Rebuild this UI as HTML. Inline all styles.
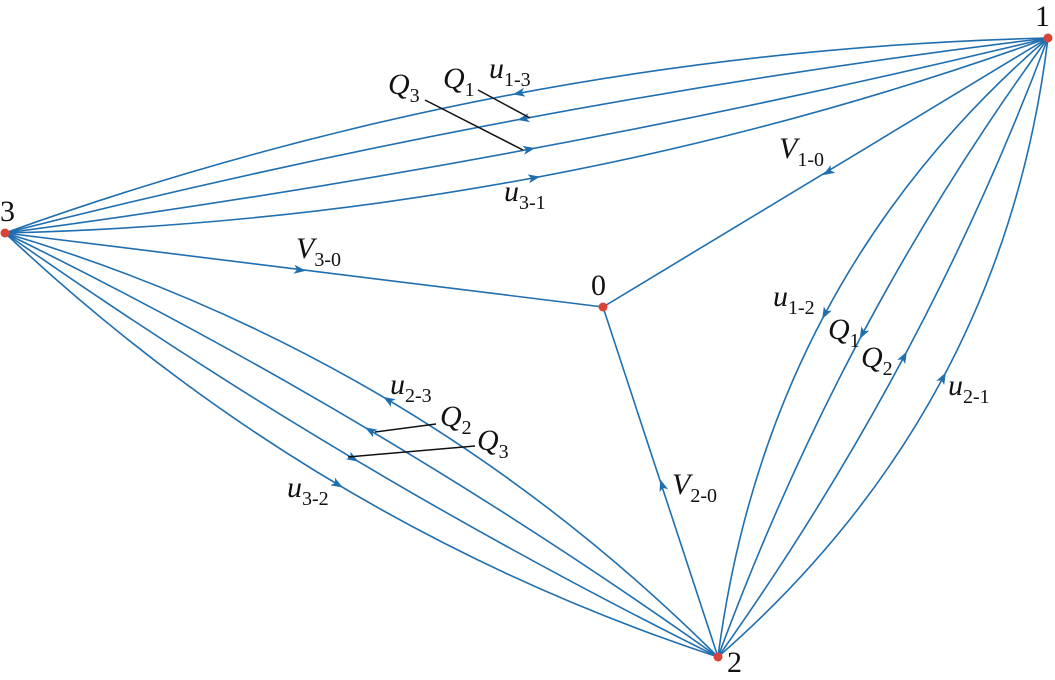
<!DOCTYPE html>
<html><head><meta charset="utf-8"><style>
html,body{margin:0;padding:0;background:#fff}
svg{display:block}
text{font-family:"Liberation Serif",serif;fill:#111}
.i{font-style:italic}
</style></head><body>
<svg id="s" width="1055" height="680" viewBox="0 0 1055 680" xmlns="http://www.w3.org/2000/svg">
<g id="curves" fill="none" stroke="#1f6fb0" stroke-width="1.6"></g>
<g id="arrows" fill="#1f6fb0"></g>
<g stroke="#111" stroke-width="1.5">
<line x1="478" y1="90" x2="530" y2="118"/>
<line x1="425" y1="100" x2="523" y2="150"/>
<line x1="436" y1="424" x2="375" y2="432"/>
<line x1="475" y1="446" x2="348" y2="457"/>
</g>
<g fill="#d9443a">
<circle cx="1048" cy="38" r="4.5"/><circle cx="5" cy="233" r="4.5"/>
<circle cx="603" cy="307" r="4.5"/><circle cx="718" cy="657" r="4.5"/>
</g>
<g font-size="30">
<text x="1035" y="26">1</text><text x="0" y="221">3</text>
<text x="591" y="295">0</text><text x="727" y="672">2</text>
<text class="i" x="489" y="78">u<tspan font-style="normal" font-size="20" dy="8">1-3</tspan></text>
<text class="i" x="443" y="88">Q<tspan font-style="normal" font-size="20" dy="8">1</tspan></text>
<text class="i" x="388" y="94">Q<tspan font-style="normal" font-size="20" dy="8">3</tspan></text>
<text class="i" x="504" y="201">u<tspan font-style="normal" font-size="20" dy="8">3-1</tspan></text>
<text class="i" x="779" y="158">V<tspan font-style="normal" font-size="20" dy="8">1-0</tspan></text>
<text class="i" x="296" y="258">V<tspan font-style="normal" font-size="20" dy="8">3-0</tspan></text>
<text class="i" x="773" y="306">u<tspan font-style="normal" font-size="20" dy="8">1-2</tspan></text>
<text class="i" x="828" y="339">Q<tspan font-style="normal" font-size="20" dy="8">1</tspan></text>
<text class="i" x="861" y="367">Q<tspan font-style="normal" font-size="20" dy="8">2</tspan></text>
<text class="i" x="948" y="395">u<tspan font-style="normal" font-size="20" dy="8">2-1</tspan></text>
<text class="i" x="390" y="394">u<tspan font-style="normal" font-size="20" dy="8">2-3</tspan></text>
<text class="i" x="440" y="426">Q<tspan font-style="normal" font-size="20" dy="8">2</tspan></text>
<text class="i" x="477" y="450">Q<tspan font-style="normal" font-size="20" dy="8">3</tspan></text>
<text class="i" x="287" y="497">u<tspan font-style="normal" font-size="20" dy="8">3-2</tspan></text>
<text class="i" x="672" y="494">V<tspan font-style="normal" font-size="20" dy="8">2-0</tspan></text>
</g>
</svg>
<script>
var N="http://www.w3.org/2000/svg",C=document.getElementById("curves"),A=document.getElementById("arrows");
function arrow(x,y,dx,dy){var l=Math.hypot(dx,dy);dx/=l;dy/=l;var px=-dy,py=dx;
var tip=[x+dx*6,y+dy*6],b1=[x-dx*6+px*4.5,y-dy*6+py*4.5],m=[x-dx*3,y-dy*3],b2=[x-dx*6-px*4.5,y-dy*6-py*4.5];
var p=document.createElementNS(N,"polygon");p.setAttribute("points",[tip,b1,m,b2].map(function(a){return a.join(",")}).join(" "));A.appendChild(p);}
function q(P0,P1,P2,rev){var p=document.createElementNS(N,"path");
p.setAttribute("d","M"+P0+" Q"+P1+" "+P2);C.appendChild(p);
var x=.25*P0[0]+.5*P1[0]+.25*P2[0],y=.25*P0[1]+.5*P1[1]+.25*P2[1];
var dx=P2[0]-P0[0],dy=P2[1]-P0[1];if(rev){dx=-dx;dy=-dy}arrow(x,y,dx,dy);}
var n1=[1048,38],n3=[5,233],n0=[603,307],n2=[718,657];
q(n3,[511,51],n1,1);q(n3,[520,102],n1,1);q(n3,[532,163],n1,0);q(n3,[542,220],n1,0);
q(n3,[415,355],n2,1);q(n3,[379,416],n2,1);q(n3,[345,472],n2,0);q(n3,[314,524],n2,0);
q(n1,[767,280],n2,0);q(n1,[842,320],n2,0);q(n1,[925,366],n2,1);q(n1,[1003,408],n2,1);
function ln(a,b,ax,ay){var p=document.createElementNS(N,"line");p.setAttribute("x1",a[0]);p.setAttribute("y1",a[1]);p.setAttribute("x2",b[0]);p.setAttribute("y2",b[1]);C.appendChild(p);arrow(ax,ay,b[0]-a[0],b[1]-a[1]);}
ln(n3,n0,300,270);ln(n1,n0,828,172);ln(n2,n0,662,485);
</script>
</body></html>
